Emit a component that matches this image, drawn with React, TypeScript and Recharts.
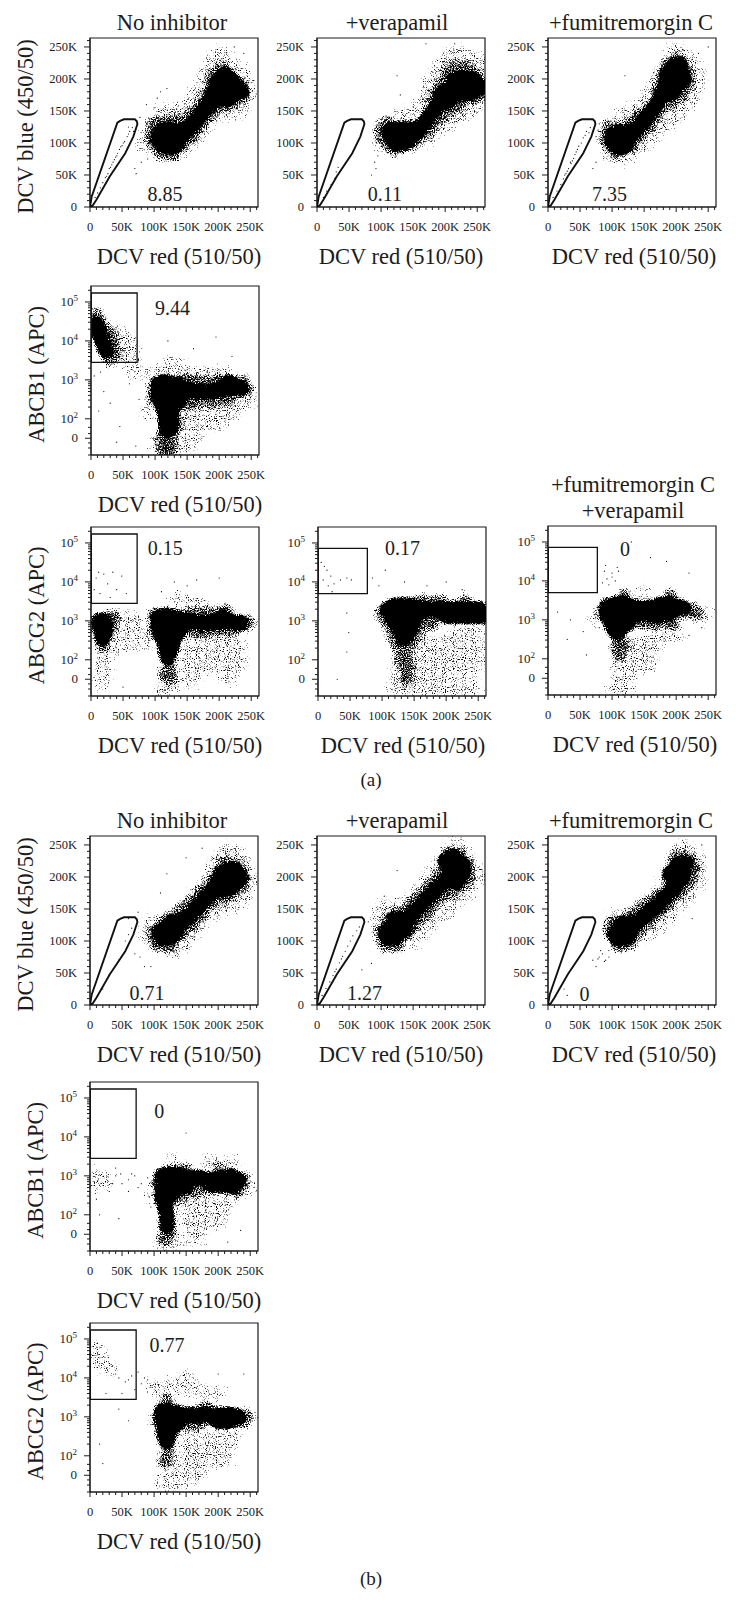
import { ReferenceArea, ReferenceDot, Scatter, ScatterChart, XAxis, YAxis } from "recharts"

type Pt = number[]

const FONT = "'Liberation Serif', serif"
const INK = "#1c1c1c"

// DCV plots are in thousands of events, APC plots in decades (10^3 = 3, "0" tick sits at 1.5)
const linearDomain = [0, 264]
const logDomain = [1.07, 5.41]
const redDomain = [0, 262.144]
const redTicks = [0, 10, 20, 30, 40, 50, 60, 70, 80, 90, 100, 110, 120, 130, 140, 150, 160, 170, 180, 190, 200, 210, 220, 230, 240, 250, 260]
const blueTicks = redTicks
const apcTicks = [1.07, 1.25, 1.38, 1.5, 1.62, 1.78, 2, 2.3, 2.48, 2.6, 2.7, 2.78, 2.85, 2.9, 2.95, 3, 3.3, 3.48, 3.6, 3.7, 3.78, 3.85, 3.9, 3.95, 4, 4.3, 4.48, 4.6, 4.7, 4.78, 4.85, 4.9, 4.95, 5, 5.3]

const sideGate: Pt[] = [[0, 0], [2.6, 16], [42.7, 131.7], [47, 134.5], [53, 137], [70, 137], [73, 134], [74, 129.6], [67.6, 110], [55, 84], [31, 48], [10, 11.5], [4, 2], [0, 0]]
const wideGate: Pt[] = [[0.5, 5.23], [72, 5.23], [72, 3.45], [0.5, 3.45], [0.5, 5.23]]
const shiftedGate: Pt[] = [[0.5, 4.86], [77, 4.86], [77, 3.7], [0.5, 3.7], [0.5, 4.86]]

// panel a, No inhibitor
const a1Core: Pt[] = [[110, 118], [122, 122], [134, 118], [106, 106], [118, 108], [130, 108], [142, 110], [114, 96], [126, 94], [136, 98], [150, 120], [160, 128], [168, 138], [176, 148], [186, 160], [196, 170], [206, 178], [218, 182], [228, 178], [210, 190], [200, 184], [214, 168], [198, 196], [208, 202], [190, 175], [236, 182], [225, 195], [212, 208]]
const a1Mid: Pt[] = [[150, 135], [165, 150], [180, 170], [190, 185], [192, 205], [205, 215], [220, 200], [235, 190], [240, 175], [225, 165], [205, 160], [190, 150], [175, 132], [160, 112], [150, 105], [130, 82], [110, 85], [97, 105], [100, 130], [125, 135]]
const a1Sparse: Pt[] = [[195, 235], [205, 240], [215, 225], [240, 210], [250, 180], [235, 150], [215, 150], [185, 135], [170, 115], [145, 90], [180, 205], [165, 175], [150, 155], [135, 145], [115, 150], [90, 120], [85, 95]]
const a1Stray: Pt[] = [[8, 15], [12, 22], [16, 30], [20, 38], [24, 46], [28, 52], [30, 60], [34, 66], [36, 70], [40, 78], [43, 84], [46, 90], [50, 96], [54, 102], [58, 110], [62, 118], [66, 124], [26, 48], [32, 62], [38, 74], [42, 80], [48, 94], [52, 100], [60, 114], [68, 118], [60, 125], [88, 160], [110, 180], [78, 140], [225, 250], [240, 240], [80, 70], [70, 60], [72, 52], [90, 75], [100, 155], [105, 170], [120, 185]]

// panel a, +verapamil
const a2Core: Pt[] = [[112, 118], [124, 122], [136, 122], [148, 122], [116, 108], [128, 108], [140, 110], [152, 112], [125, 98], [138, 100], [160, 122], [170, 135], [180, 148], [190, 162], [200, 175], [210, 185], [222, 190], [234, 190], [246, 190], [258, 188], [214, 200], [228, 202], [242, 200], [205, 165], [195, 178], [225, 178], [240, 178]]
const a2Mid: Pt[] = [[195, 190], [205, 212], [220, 218], [235, 215], [250, 205], [255, 175], [240, 170], [225, 170], [215, 155], [195, 145], [180, 130], [170, 118], [110, 132], [100, 120], [104, 106], [120, 90], [150, 100], [180, 165], [190, 180]]
const a2Sparse: Pt[] = [[205, 235], [220, 240], [240, 230], [255, 225], [190, 215], [175, 190], [165, 160], [150, 145], [130, 140], [100, 100], [250, 155], [230, 150], [210, 135], [190, 125], [170, 105]]
const a2Stray: Pt[] = [[10, 15], [15, 25], [22, 35], [30, 55], [33, 62], [28, 45], [90, 70], [92, 60], [85, 50], [130, 175], [125, 205], [170, 255], [215, 255], [95, 80]]

// panel a, +fumitremorgin C
const a3Core: Pt[] = [[100, 112], [110, 118], [120, 116], [100, 102], [110, 102], [122, 104], [110, 93], [120, 95], [130, 112], [140, 124], [150, 134], [158, 146], [166, 156], [174, 170], [182, 184], [190, 196], [200, 206], [192, 214], [204, 192], [194, 180], [208, 212], [198, 222], [212, 200], [185, 205], [205, 224]]
const a3Mid: Pt[] = [[95, 125], [90, 105], [105, 85], [130, 95], [140, 110], [130, 130], [145, 145], [155, 125], [165, 140], [175, 155], [170, 180], [180, 200], [185, 220], [200, 230], [215, 215], [220, 195], [208, 175], [195, 165]]
const a3Sparse: Pt[] = [[195, 245], [210, 240], [225, 225], [235, 200], [225, 170], [205, 150], [185, 130], [165, 115], [145, 95], [120, 80], [95, 85], [160, 170], [170, 200], [150, 165], [130, 145], [115, 140]]
const a3Stray: Pt[] = [[8, 15], [14, 25], [20, 35], [24, 44], [28, 52], [32, 60], [36, 68], [40, 76], [44, 86], [48, 95], [55, 108], [60, 118], [66, 124], [35, 70], [26, 50], [30, 56], [38, 72], [42, 82], [46, 90], [52, 100], [58, 112], [64, 116], [120, 205], [250, 250], [235, 240], [75, 110], [80, 130], [75, 70], [85, 125], [78, 120], [82, 118], [70, 60]]

// panel a, ABCB1
const aB1Core: Pt[] = [[8, 4.45], [12, 4.25], [16, 4.05], [20, 3.9], [24, 3.75], [105, 2.9], [117, 2.95], [129, 2.9], [141, 2.85], [105, 2.6], [117, 2.6], [129, 2.6], [141, 2.6], [112, 2.3], [124, 2.3], [134, 2.4], [116, 2], [127, 2], [118, 1.7], [124, 1.75], [153, 2.75], [165, 2.7], [177, 2.7], [189, 2.7], [201, 2.75], [213, 2.78], [225, 2.78], [235, 2.78], [215, 2.95]]
const aB1Mid: Pt[] = [[8, 4.65], [20, 4.3], [30, 4.15], [34, 3.9], [38, 3.65], [28, 3.55], [98, 2.5], [100, 2.85], [145, 3], [170, 2.95], [200, 2.98], [235, 2.95], [243, 2.75], [150, 2.4], [165, 2.45], [190, 2.45], [215, 2.5], [112, 1.55], [122, 1.45], [125, 1.2], [112, 1.2], [135, 1.85]]
const aB1Sparse: Pt[] = [[45, 4.2], [55, 4], [65, 3.85], [50, 3.6], [60, 3.45], [70, 3.2], [110, 3.2], [130, 3.4], [150, 3.15], [180, 3.15], [210, 3.15], [248, 2.6], [150, 2.1], [170, 2.15], [195, 2.2], [225, 2.25], [150, 1.7], [175, 1.8], [200, 1.9], [155, 1.4], [105, 1.35], [130, 1.15], [90, 2.2], [240, 2.4]]
const aB1Stray: Pt[] = [[20, 2.7], [12, 2.2], [30, 2.4], [45, 1.8], [60, 2.9], [75, 2.5], [85, 2.9], [120, 4.0], [160, 3.8], [195, 4.1], [220, 3.6], [40, 1.4], [70, 1.3], [5, 3.1], [15, 3.2]]

// panel a, ABCG2 without inhibitor
const aG1Core: Pt[] = [[12, 3], [22, 3], [15, 2.8], [22, 2.75], [18, 2.55], [105, 3.1], [117, 3.15], [129, 3.1], [141, 3.05], [105, 2.85], [117, 2.85], [129, 2.85], [141, 2.85], [110, 2.6], [122, 2.55], [132, 2.6], [116, 2.3], [126, 2.3], [120, 2.05], [153, 3], [165, 2.95], [177, 2.95], [189, 2.95], [201, 3], [213, 3], [225, 2.95], [235, 2.95], [205, 3.1]]
const aG1Mid: Pt[] = [[35, 3.1], [30, 2.8], [18, 2.35], [10, 2.85], [100, 2.7], [100, 3.15], [122, 1.8], [116, 1.6], [125, 1.5], [150, 2.75], [170, 2.7], [195, 2.75], [220, 2.75], [245, 2.95], [155, 3.2], [180, 3.2], [210, 3.25]]
const aG1Sparse: Pt[] = [[45, 3.1], [18, 2], [20, 1.7], [15, 1.4], [55, 2.8], [30, 2.3], [70, 3], [120, 1.25], [112, 1.2], [150, 2.3], [175, 2.3], [200, 2.4], [230, 2.4], [150, 1.9], [175, 1.85], [200, 1.9], [230, 1.9], [160, 1.5], [215, 1.5], [135, 3.55], [170, 3.45], [92, 2.5], [70, 2.4]]
const aG1Stray: Pt[] = [[5, 3.8], [8, 4.1], [14, 3.7], [20, 4.2], [26, 3.95], [34, 4.25], [40, 3.8], [48, 4.15], [55, 3.7], [12, 4.25], [30, 3.6], [110, 3.75], [130, 4], [150, 3.9], [165, 4.05], [200, 4.1], [50, 1.3], [40, 2.2]]

// panel a, ABCG2 + verapamil
const aG2Core: Pt[] = [[108, 3.3], [120, 3.4], [132, 3.4], [144, 3.4], [156, 3.35], [168, 3.3], [180, 3.3], [192, 3.3], [204, 3.3], [216, 3.3], [228, 3.3], [240, 3.3], [252, 3.3], [116, 3.05], [128, 3.05], [140, 3.05], [152, 3.1], [200, 3.12], [215, 3.12], [230, 3.12], [245, 3.12], [258, 3.12], [125, 2.8], [136, 2.8], [146, 2.8], [134, 2.55]]
const aG2Mid: Pt[] = [[100, 3.2], [110, 2.95], [120, 2.5], [150, 2.5], [135, 2.25], [130, 2], [140, 1.85], [138, 1.5], [165, 2.95], [180, 2.95], [160, 3.5], [190, 3.5], [230, 3.5]]
const aG2Sparse: Pt[] = [[125, 1.9], [155, 2.1], [175, 2.3], [200, 2.3], [225, 2.4], [250, 2.5], [160, 1.8], [190, 1.75], [220, 1.85], [250, 1.9], [120, 1.3], [145, 1.25], [175, 1.2], [210, 1.15], [240, 1.2], [165, 2.5], [210, 2.6], [240, 2.7], [185, 2.0], [215, 2.1]]
const aG2Stray: Pt[] = [[5, 4.5], [10, 4.4], [14, 4.3], [20, 4.15], [8, 4.05], [16, 3.9], [25, 3.95], [35, 4.05], [45, 4.1], [52, 4.05], [22, 3.75], [85, 4.1], [95, 3.9], [105, 4.3], [135, 4], [170, 3.9], [200, 4], [225, 3.8], [45, 3.2], [48, 2.7], [45, 2.2], [30, 1.5]]

// panel a, ABCG2 + both inhibitors
const aG3Core: Pt[] = [[92, 3.35], [104, 3.4], [116, 3.45], [128, 3.35], [140, 3.3], [152, 3.3], [164, 3.3], [176, 3.4], [188, 3.4], [200, 3.35], [212, 3.3], [92, 3.1], [104, 3.1], [116, 3.1], [128, 3.1], [150, 3.15], [190, 3.15], [170, 3.1], [100, 2.85], [112, 2.85], [124, 2.9], [108, 2.65]]
const aG3Mid: Pt[] = [[85, 3.2], [140, 2.95], [165, 2.9], [195, 2.9], [225, 3.25], [232, 3.15], [108, 2.35], [112, 2.1], [118, 2.4], [120, 3.6], [190, 3.6]]
const aG3Sparse: Pt[] = [[110, 1.8], [115, 1.5], [105, 1.2], [120, 1.1], [130, 2.3], [150, 2.4], [170, 2.5], [200, 2.6], [140, 1.8], [160, 1.9], [245, 3.1], [75, 3], [150, 3.7]]
const aG3Stray: Pt[] = [[90, 4.4], [100, 4.1], [110, 4.25], [130, 5], [160, 4.6], [185, 4.5], [220, 4.2], [55, 2.7], [35, 3], [30, 2.5], [15, 3.2], [60, 2.1], [80, 2.8], [220, 2.6], [240, 2.8], [95, 3.9], [100, 4.2], [105, 4.0], [88, 4.25], [92, 4.05], [85, 3.95], [108, 4.35]]

// panel b, No inhibitor
const b1Core: Pt[] = [[108, 115], [118, 118], [128, 122], [112, 105], [122, 106], [132, 110], [138, 125], [148, 132], [156, 142], [166, 150], [176, 162], [186, 172], [196, 180], [206, 192], [216, 200], [226, 198], [210, 180], [222, 186], [206, 206], [218, 212], [128, 130], [236, 198], [228, 210], [198, 192]]
const b1Mid: Pt[] = [[100, 112], [118, 132], [105, 95], [125, 92], [145, 115], [160, 128], [175, 145], [195, 165], [215, 170], [235, 185], [238, 200], [230, 215], [210, 222], [195, 198], [175, 178], [155, 158], [140, 145]]
const b1Sparse: Pt[] = [[215, 240], [225, 235], [200, 228], [240, 225], [250, 195], [240, 170], [220, 155], [190, 145], [170, 125], [150, 100], [130, 85], [95, 128], [165, 170], [185, 195], [195, 215], [90, 105]]
const b1Stray: Pt[] = [[20, 25], [30, 48], [45, 70], [60, 110], [65, 120], [55, 100], [95, 60], [78, 75], [70, 80], [85, 60], [75, 145], [110, 175], [120, 205], [150, 230], [60, 135], [175, 245]]

// panel b, +verapamil
const b2Core: Pt[] = [[108, 115], [118, 120], [128, 125], [110, 104], [120, 105], [130, 112], [138, 128], [146, 140], [156, 150], [166, 160], [176, 170], [186, 182], [196, 190], [206, 198], [216, 208], [226, 205], [210, 222], [220, 222], [206, 214], [218, 192], [138, 118], [120, 135], [200, 225], [212, 232], [228, 218]]
const b2Mid: Pt[] = [[100, 115], [105, 95], [125, 92], [145, 118], [160, 135], [175, 150], [195, 170], [215, 178], [235, 195], [235, 218], [222, 235], [205, 235], [195, 205], [175, 185], [155, 165], [135, 145], [115, 135]]
const b2Sparse: Pt[] = [[215, 250], [225, 245], [195, 225], [245, 210], [235, 175], [205, 150], [175, 125], [150, 100], [95, 130], [165, 180], [150, 165], [255, 205], [180, 205], [120, 150], [105, 155]]
const b2Stray: Pt[] = [[8, 15], [14, 26], [20, 36], [25, 46], [30, 56], [35, 66], [40, 76], [44, 84], [48, 92], [52, 100], [56, 108], [62, 116], [66, 122], [28, 52], [38, 72], [80, 130], [88, 135], [95, 150], [105, 170], [125, 210], [70, 55], [85, 65]]

// panel b, +fumitremorgin C
const b3Core: Pt[] = [[104, 112], [114, 118], [124, 122], [108, 103], [118, 104], [128, 110], [134, 126], [144, 134], [154, 142], [164, 150], [174, 158], [184, 170], [194, 180], [202, 192], [210, 200], [200, 208], [212, 212], [204, 220], [116, 128], [215, 222], [190, 205]]
const b3Mid: Pt[] = [[98, 115], [100, 128], [112, 92], [130, 100], [146, 122], [165, 138], [185, 155], [205, 175], [222, 195], [228, 215], [215, 230], [198, 230], [190, 200], [170, 170], [150, 155], [130, 140]]
const b3Sparse: Pt[] = [[205, 245], [215, 245], [235, 225], [235, 195], [215, 165], [190, 140], [170, 120], [150, 110], [105, 140], [180, 195]]
const b3Stray: Pt[] = [[30, 15], [25, 25], [70, 70], [75, 60], [78, 72], [90, 70], [95, 85], [225, 135], [240, 250], [165, 125], [135, 85], [85, 80], [95, 75], [80, 75], [88, 68], [82, 85]]

// panel b, ABCB1
const bB1Core: Pt[] = [[112, 3], [124, 3.05], [136, 3.05], [148, 2.95], [160, 2.95], [172, 2.95], [184, 2.9], [196, 2.9], [208, 2.95], [220, 3], [232, 2.9], [112, 2.75], [124, 2.75], [136, 2.7], [190, 2.75], [210, 2.75], [224, 2.72], [148, 2.7], [112, 2.45], [122, 2.45], [117, 2.2], [120, 1.95], [120, 1.7]]
const bB1Mid: Pt[] = [[105, 2.8], [125, 1.5], [115, 1.4], [135, 2.45], [160, 2.6], [240, 2.9], [230, 2.6], [172, 2.65], [150, 3.15], [200, 3.15]]
const bB1Sparse: Pt[] = [[8, 2.95], [12, 3], [5, 2.8], [25, 2.85], [110, 1.2], [125, 1.15], [145, 2.25], [165, 2.3], [190, 2.4], [215, 2.3], [150, 1.9], [175, 1.8], [200, 1.85], [165, 1.4], [250, 2.7], [100, 2.5], [130, 3.35], [185, 3.35], [220, 3.3]]
const bB1Stray: Pt[] = [[10, 2.4], [15, 2], [30, 2.6], [40, 3], [50, 2.8], [70, 3], [85, 2.5], [45, 1.9], [150, 4.1], [215, 1.3], [235, 1.6], [95, 2.2], [40, 3.2], [60, 2.6], [60, 2.9], [80, 2.8], [65, 3.05], [90, 2.95], [35, 2.8], [48, 3.05], [75, 2.7]]

// panel b, ABCG2
const bG1Core: Pt[] = [[112, 3.15], [124, 3.15], [136, 3.1], [148, 3.05], [160, 3.05], [172, 3.05], [184, 3.05], [196, 3.05], [208, 3.05], [220, 3.05], [232, 3], [112, 2.9], [124, 2.85], [136, 2.85], [200, 2.88], [215, 2.88], [115, 2.6], [125, 2.6], [120, 2.35]]
const bG1Mid: Pt[] = [[106, 2.95], [122, 2.1], [118, 1.85], [148, 2.8], [170, 2.8], [235, 2.85], [245, 3], [180, 3.25], [120, 3.4]]
const bG1Sparse: Pt[] = [[122, 1.5], [115, 1.3], [128, 1.2], [148, 2.3], [170, 2.35], [195, 2.45], [225, 2.5], [150, 1.9], [180, 1.8], [210, 1.9], [160, 1.45], [10, 4.55], [15, 4.4], [8, 4.75], [30, 4.25], [100, 3.75], [110, 3.7], [135, 3.8], [165, 3.7], [200, 3.6], [150, 4]]
const bG1Stray: Pt[] = [[50, 3.6], [45, 3.2], [60, 2.9], [20, 1.8], [15, 2.3], [25, 3.6], [70, 3.7], [240, 4.1], [200, 4.1], [45, 4], [60, 3.95], [85, 4], [95, 3.8], [40, 4.1], [55, 3.9], [65, 4.05], [75, 4.15], [80, 3.85], [90, 3.95], [35, 4.3]]

const PANELS = [
  { left: 90, top: 38, log: false, yLabel: "DCV blue (450/50)", labelDx: 5, core: a1Core, mid: a1Mid, sparse: a1Sparse, stray: a1Stray, gate: sideGate, value: "8.85", at: [117, 21] },
  { left: 317, top: 38, log: false, yLabel: "", labelDx: 0, core: a2Core, mid: a2Mid, sparse: a2Sparse, stray: a2Stray, gate: sideGate, value: "0.11", at: [106, 21] },
  { left: 548, top: 38, log: false, yLabel: "", labelDx: 2, core: a3Core, mid: a3Mid, sparse: a3Sparse, stray: a3Stray, gate: sideGate, value: "7.35", at: [96, 21] },
  { left: 91, top: 286, log: true, yLabel: "ABCB1 (APC)", labelDx: 5, core: aB1Core, mid: aB1Mid, sparse: aB1Sparse, stray: aB1Stray, gate: wideGate, value: "9.44", at: [127, 4.85] },
  { left: 91, top: 527, log: true, yLabel: "ABCG2 (APC)", labelDx: 5, core: aG1Core, mid: aG1Mid, sparse: aG1Sparse, stray: aG1Stray, gate: wideGate, value: "0.15", at: [116, 4.87] },
  { left: 318, top: 527, log: true, yLabel: "", labelDx: 1, core: aG2Core, mid: aG2Mid, sparse: aG2Sparse, stray: aG2Stray, gate: shiftedGate, value: "0.17", at: [132, 4.87] },
  { left: 548, top: 526, log: true, yLabel: "", labelDx: 3, core: aG3Core, mid: aG3Mid, sparse: aG3Sparse, stray: aG3Stray, gate: shiftedGate, value: "0", at: [120, 4.81] },
  { left: 90, top: 836, log: false, yLabel: "DCV blue (450/50)", labelDx: 5, core: b1Core, mid: b1Mid, sparse: b1Sparse, stray: b1Stray, gate: sideGate, value: "0.71", at: [89, 19] },
  { left: 317, top: 836, log: false, yLabel: "", labelDx: 0, core: b2Core, mid: b2Mid, sparse: b2Sparse, stray: b2Stray, gate: sideGate, value: "1.27", at: [74, 19] },
  { left: 548, top: 836, log: false, yLabel: "", labelDx: 2, core: b3Core, mid: b3Mid, sparse: b3Sparse, stray: b3Stray, gate: sideGate, value: "0", at: [57, 18] },
  { left: 90, top: 1082, log: true, yLabel: "ABCB1 (APC)", labelDx: 5, core: bB1Core, mid: bB1Mid, sparse: bB1Sparse, stray: bB1Stray, gate: wideGate, value: "0", at: [108, 4.68] },
  { left: 90, top: 1323, log: true, yLabel: "ABCG2 (APC)", labelDx: 5, core: bG1Core, mid: bG1Mid, sparse: bG1Sparse, stray: bG1Stray, gate: wideGate, value: "0.77", at: [120, 4.85] },
]

const HEADINGS = [
  { text: "No inhibitor", x: 172, y: 23 },
  { text: "+verapamil", x: 397, y: 23 },
  { text: "+fumitremorgin C", x: 631, y: 23 },
  { text: "+fumitremorgin C", x: 633, y: 485 },
  { text: "+verapamil", x: 633, y: 511 },
  { text: "No inhibitor", x: 172, y: 821 },
  { text: "+verapamil", x: 397, y: 821 },
  { text: "+fumitremorgin C", x: 631, y: 821 },
]

const CAPTIONS = [
  { text: "(a)", x: 371, y: 780 },
  { text: "(b)", x: 371, y: 1579 },
]

// density layers of a dot plot: how much of the area is inked, and how soft the edge is
const LAYERS = [
  { key: "sparse", density: 0.44, blur: 6 },
  { key: "mid", density: 0.62, blur: 4 },
  { key: "core", density: 1, blur: 3 },
]

const AXIS_W = 88
const PAD_TOP = 2
const PLOT_W = 168
const PLOT_H = 169
const CHART_W = AXIS_W + PLOT_W + 24
const CHART_H = PAD_TOP + PLOT_H + 62

const rows = (pts: Pt[]) => pts.map(([x, y]) => ({ x, y }))

function RedTick({ x, y, payload }: any) {
  const major = payload.value % 50 === 0
  const label = payload.value === 0 ? "0" : `${payload.value}K`
  return (
    <g>
      <line x1={x} x2={x} y1={y} y2={y + (major ? 5 : 3)} stroke={INK} />
      {major && (
        <text x={x} y={y + 24} textAnchor="middle" fontSize={12.5} fontFamily={FONT} fill={INK}>
          {label}
        </text>
      )}
    </g>
  )
}

function BlueTick({ x, y, payload }: any) {
  const major = payload.value % 50 === 0
  const label = payload.value === 0 ? "0" : `${payload.value}K`
  return (
    <g>
      <line x1={x} x2={x - (major ? 6 : 3)} y1={y} y2={y} stroke={INK} />
      {major && (
        <text x={x - 13} y={y + 4} textAnchor="end" fontSize={12.5} fontFamily={FONT} fill={INK}>
          {label}
        </text>
      )}
    </g>
  )
}

function ApcTick({ x, y, payload }: any) {
  const v = payload.value
  const major = v === 1.5 || v === 2 || v === 3 || v === 4 || v === 5
  return (
    <g>
      <line x1={x} x2={x - (major ? 6 : 3)} y1={y} y2={y} stroke={INK} />
      {major && (
        <text x={x - 13} y={y + 4} textAnchor="end" fontSize={13} fontFamily={FONT} fill={INK}>
          {v === 1.5 ? (
            "0"
          ) : (
            <>
              10<tspan dy={-5} fontSize={9}>{v}</tspan>
            </>
          )}
        </text>
      )}
    </g>
  )
}

const blobShape = (r: number) => (props: any) => <circle cx={props.cx} cy={props.cy} r={r} fill="#000" />

function Panel({ panel, index }: { panel: (typeof PANELS)[number]; index: number }) {
  const yDomain = panel.log ? logDomain : linearDomain
  return (
    <div style={{ position: "absolute", left: panel.left - AXIS_W, top: panel.top - PAD_TOP }}>
      <ScatterChart width={CHART_W} height={CHART_H} margin={{ top: PAD_TOP, right: 24, bottom: 0, left: 0 }}>
        <XAxis
          type="number"
          dataKey="x"
          domain={redDomain}
          ticks={redTicks}
          interval={0}
          allowDataOverflow
          height={62}
          tickLine={false}
          tickSize={0}
          tickMargin={0}
          stroke={INK}
          tick={<RedTick />}
          label={{ value: "DCV red (510/50)", position: "insideBottom", offset: 5, dx: panel.labelDx, fontFamily: FONT, fontSize: 22.5, fill: INK }}
        />
        <YAxis
          type="number"
          dataKey="y"
          domain={yDomain}
          ticks={panel.log ? apcTicks : blueTicks}
          interval={0}
          allowDataOverflow
          width={AXIS_W}
          tickLine={false}
          tickSize={0}
          tickMargin={0}
          stroke={INK}
          tick={panel.log ? <ApcTick /> : <BlueTick />}
        />
        <Scatter className={`sparse-${index}`} data={rows(panel.sparse)} shape={blobShape(14)} isAnimationActive={false} />
        <Scatter className={`mid-${index}`} data={rows(panel.mid)} shape={blobShape(11)} isAnimationActive={false} />
        <Scatter className={`core-${index}`} data={rows(panel.core)} shape={blobShape(9)} isAnimationActive={false} />
        <Scatter data={rows(panel.stray)} shape={blobShape(0.6)} isAnimationActive={false} />
        <ReferenceArea x1={redDomain[0]} x2={redDomain[1]} y1={yDomain[0]} y2={yDomain[1]} fill="none" stroke={INK} strokeWidth={1.2} ifOverflow="extendDomain" />
        <Scatter
          data={rows(panel.gate)}
          line={{ stroke: "#111", strokeWidth: panel.log ? 1.3 : 1.9 }}
          lineJointType="linear"
          shape={() => <g />}
          isAnimationActive={false}
        />
        <ReferenceDot
          x={panel.at[0]}
          y={panel.at[1]}
          r={0}
          label={{ value: panel.value, position: "center", fontFamily: FONT, fontSize: 20, fill: INK }}
        />
        {panel.yLabel && (
          <text
            transform={`translate(${panel.log ? 33 : 23},${PAD_TOP + PLOT_H / 2 + 4}) rotate(-90)`}
            textAnchor="middle"
            dominantBaseline="central"
            fontFamily={FONT}
            fontSize={22.5}
            fill={INK}
          >
            {panel.yLabel}
          </text>
        )}
      </ScatterChart>
    </div>
  )
}

export default function App() {
  return (
    <div style={{ position: "absolute", left: 0, top: 0, width: 742, height: 1605, background: "#fff", fontFamily: FONT, color: INK, overflow: "hidden" }}>
      <svg width={0} height={0} style={{ position: "absolute" }}>
        <defs>
          {PANELS.map((_, i) =>
            LAYERS.map((layer, j) => (
              <filter key={layer.key} id={`${layer.key}-${i}`} filterUnits="userSpaceOnUse" x={AXIS_W} y={PAD_TOP} width={PLOT_W} height={PLOT_H} colorInterpolationFilters="sRGB">
                <feGaussianBlur in="SourceAlpha" stdDeviation={layer.blur} />
                <feComponentTransfer result="density">
                  <feFuncA type="linear" slope={layer.density} />
                </feComponentTransfer>
                <feTurbulence type="fractalNoise" baseFrequency={0.9} numOctaves={1} seed={i * 3 + j + 2} result="grain" />
                <feColorMatrix in="grain" type="matrix" values="0 0 0 0 0  0 0 0 0 0  0 0 0 0 0  1 0 0 0 0" result="noise" />
                <feComposite in="density" in2="noise" operator="arithmetic" k1={0} k2={1} k3={1} k4={-0.98} />
                <feComponentTransfer>
                  <feFuncA type="linear" slope={6} intercept={0} />
                </feComponentTransfer>
              </filter>
            ))
          )}
        </defs>
      </svg>
      <style>
        {PANELS.map((_, i) => LAYERS.map((l) => `.${l.key}-${i}{filter:url(#${l.key}-${i})}`).join("")).join("")}
      </style>
      {PANELS.map((panel, i) => (
        <Panel key={i} panel={panel} index={i} />
      ))}
      {HEADINGS.map((h) => (
        <div key={`${h.text}${h.y}`} style={{ position: "absolute", left: h.x - 120, width: 240, top: h.y - 13, lineHeight: "26px", textAlign: "center", fontSize: 22.5 }}>
          {h.text}
        </div>
      ))}
      {CAPTIONS.map((c) => (
        <div key={c.text} style={{ position: "absolute", left: c.x - 30, width: 60, top: c.y - 12, lineHeight: "24px", textAlign: "center", fontSize: 19 }}>
          {c.text}
        </div>
      ))}
    </div>
  )
}
